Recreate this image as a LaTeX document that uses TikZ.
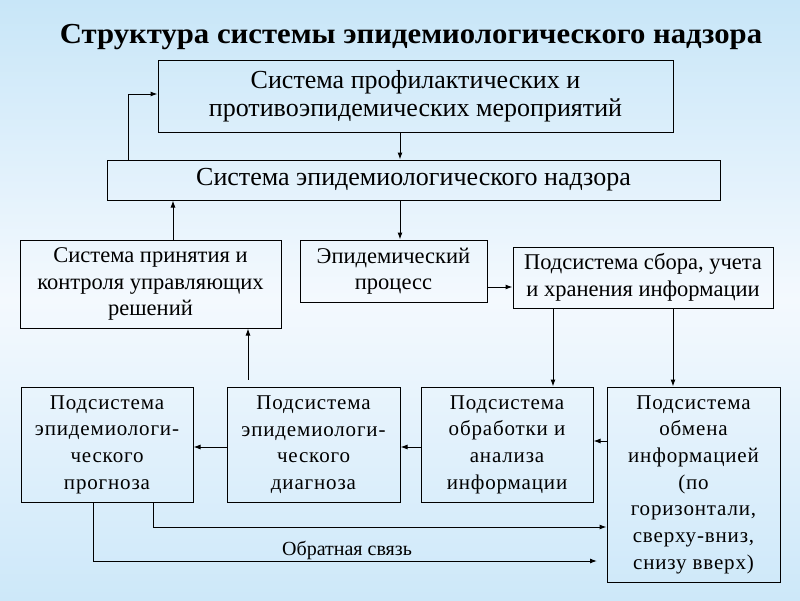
\documentclass[tikz,border=0pt]{standalone}
\usepackage{fontspec}
\setmainfont{Liberation Serif}
\newfontfamily\ttlfam[FakeStretch=1.06]{Liberation Serif}
\newfontfamily\lowfam[LetterSpace=4]{Liberation Serif}
\usetikzlibrary{arrows.meta, positioning}
\definecolor{bgtop}{RGB}{200,230,248}
\definecolor{bgmid}{RGB}{244,249,254}
\definecolor{bgbot}{RGB}{205,232,249}
\newcommand{\ttlfont}{\ttlfam\fontsize{29}{32}\selectfont\bfseries}
\newcommand{\topfont}{\fontsize{26}{28}\selectfont}
\newcommand{\midfont}{\fontsize{22.5}{26.5}\selectfont}
\newcommand{\lowfont}{\lowfam\fontsize{21}{26.7}\selectfont}
\newcommand{\fbfont}{\fontsize{20}{24}\selectfont}

\begin{document}
\begin{tikzpicture}[x=1pt, y=-1pt, >={Latex[length=7pt,width=5pt]},
    box/.style={draw, line width=1pt, align=center, inner sep=0pt},
    link/.style={->, line width=1pt}]

            \shade[top color=bgtop, bottom color=bgbot, middle color=bgmid] (0,0) rectangle (800,600);
            \useasboundingbox (0,0) rectangle (800,600);

            \node[font=\ttlfont, anchor=base] (title) at (411,43) {Структура системы эпидемиологического надзора};

            \node[box, minimum width=515pt, minimum height=72pt, font=\topfont] (sysprof) at (415.5,96) {Система профилактических и\\противоэпидемических мероприятий};
            \node[box, minimum width=613pt, minimum height=40pt, font=\topfont] (sysnadz) at (413.5,180) {Система эпидемиологического надзора};

            \node[box, minimum width=261pt, minimum height=88pt, font=\midfont] (sysresh) at (150.5,284) {Система принятия и\\контроля управляющих\\решений};
            \node[box, minimum width=187pt, minimum height=62pt, font=\midfont] (epiproc) at (393.5,271) {Эпидемический\\процесс};
            \node[box, minimum width=260pt, minimum height=61pt, font=\midfont] (podsbor) at (643,277.5) {Подсистема сбора, учета\\и хранения информации};

            \node[box, minimum width=172pt, minimum height=115pt, font=\lowfont] (podprog) at (107,444.5) {Подсистема\\эпидемиологи-\\ческого\\прогноза};
            \node[box, minimum width=173pt, minimum height=115pt, font=\lowfont] (poddiag) at (313.5,444.5) {Подсистема\\эпидемиологи-\\ческого\\диагноза};
            \node[box, minimum width=172pt, minimum height=115pt, font=\lowfont] (podobr) at (507,444.5) {Подсистема\\обработки и\\анализа\\информации};
            \node[box, minimum width=173pt, minimum height=195pt, font=\lowfont] (podobm) at (693.5,484.5) {Подсистема\\обмена\\информацией\\(по\\горизонтали,\\сверху-вниз,\\снизу вверх)};

            \coordinate (c1) at (400,0);
            \coordinate (c2) at (128,94);
            \coordinate (c3) at (173,0);
            \coordinate (c4) at (0,287);
            \coordinate (c5) at (553,0);
            \coordinate (c6) at (673,0);
            \coordinate (c7) at (248,0);
            \coordinate (c8) at (0,441);
            \coordinate (c9) at (0,447);
            \coordinate (c10) at (153,527);
            \coordinate (c11) at (93,561);
            \coordinate (fbend) at (597,561);

            \draw[link] (sysprof.south -| c1) -- (sysnadz.north -| c1);
            \draw[link] (sysnadz.north -| c2) |- (sysprof.west |- c2);
            \draw[link] (sysresh.north -| c3) -- (sysnadz.south -| c3);
            \draw[link] (sysnadz.south -| c1) -- (epiproc.north -| c1);
            \draw[link] (epiproc.east |- c4) -- (podsbor.west |- c4);
            \draw[link] (podsbor.south -| c5) -- (podobr.north -| c5);
            \draw[link] (podsbor.south -| c6) -- (podobm.north -| c6);
            \draw[link] (poddiag.north -| c7) ++(0,-7) -- (sysresh.south -| c7);
            \draw[link] (podobm.west |- c8) -- (podobr.east |- c8);
            \draw[link] (podobr.west |- c9) -- (poddiag.east |- c9);
            \draw[link] (poddiag.west |- c9) -- (podprog.east |- c9);
            \draw[link] (podprog.south -| c10) |- (podobm.west |- c10);
            \draw[link] (podprog.south -| c11) |- (fbend) node[pos=0.752, above, inner sep=1pt, font=\fbfont] {Обратная связь};

        \end{tikzpicture}
\end{document}
